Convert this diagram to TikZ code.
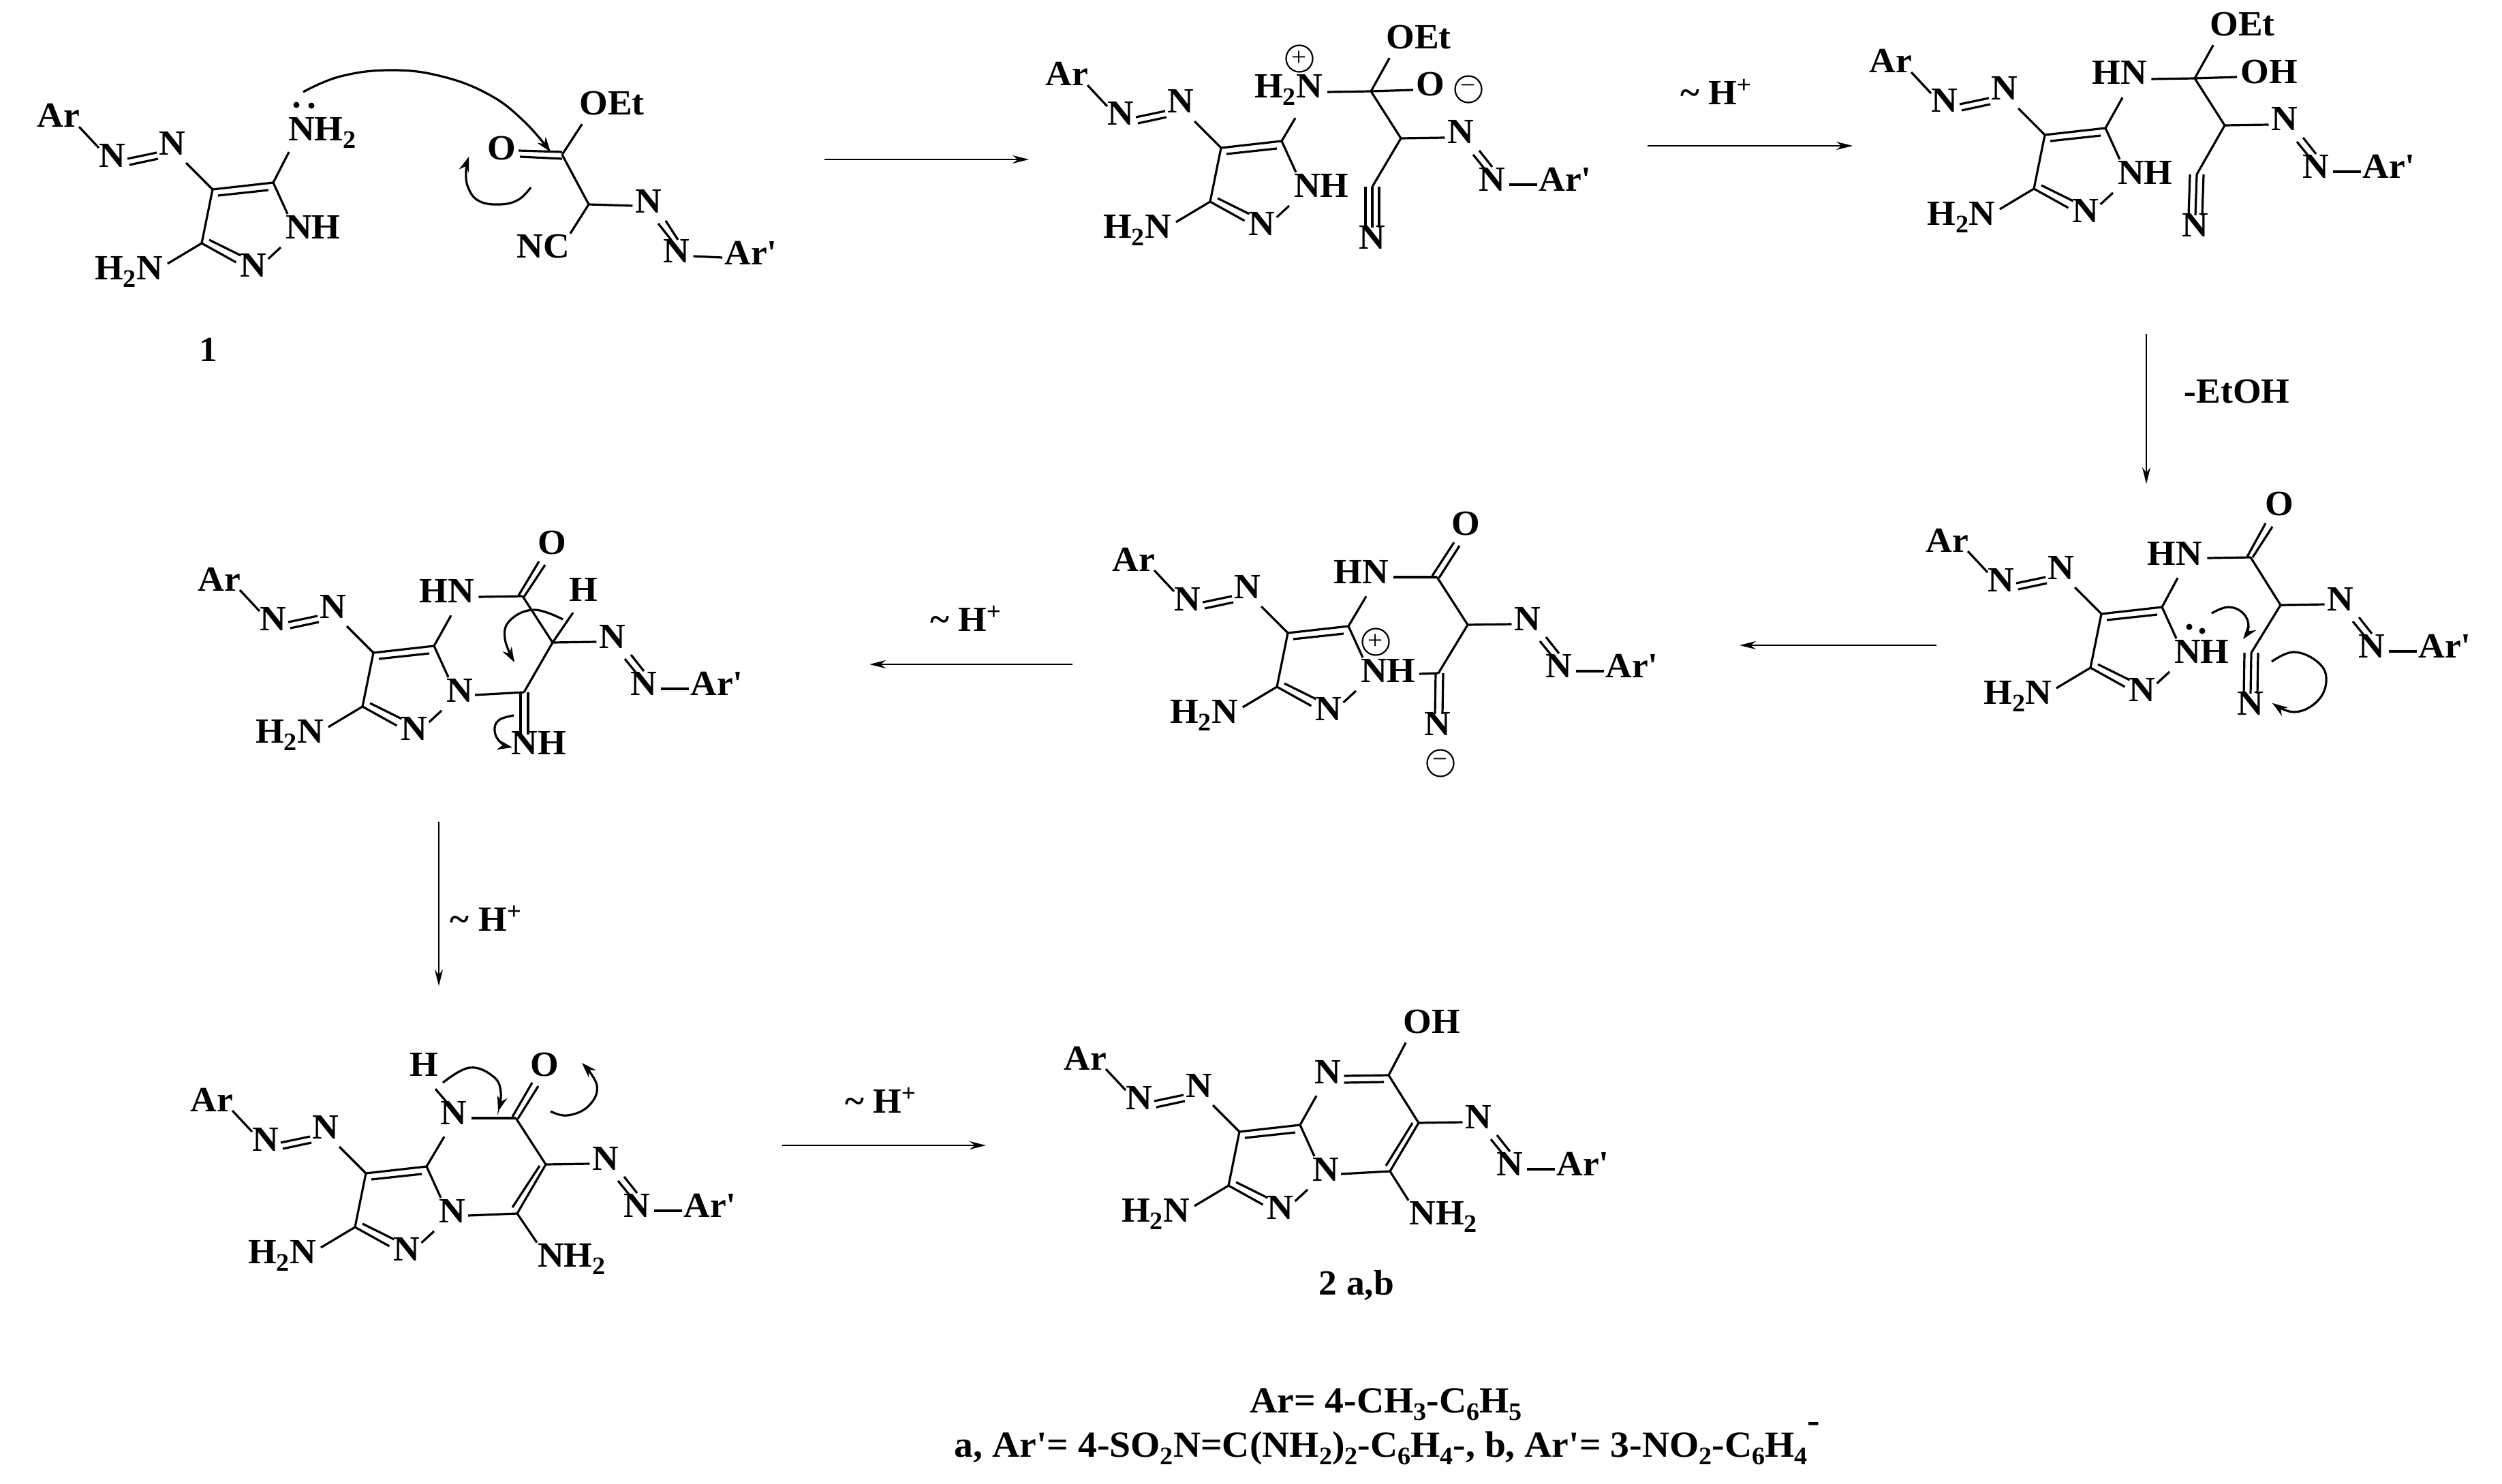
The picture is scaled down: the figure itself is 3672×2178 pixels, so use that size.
\documentclass[tikz,border=0pt]{standalone}
\usepackage{fontspec}
\setmainfont{Liberation Serif}[Ligatures=TeXOff,FakeStretch=1.03]
\usetikzlibrary{calc,arrows.meta}
\newcommand\sbs[1]{\raisebox{-11pt}[0pt][0pt]{\fontsize{37}{37}\selectfont #1}}
\newcommand\sps[1]{\raisebox{17pt}[0pt][0pt]{\fontsize{36}{36}\selectfont #1}}
\tikzset{
  atom/.style={inner sep=1pt,font=\fontsize{52}{54}\selectfont\bfseries,text height=34pt,text depth=0pt},
  caption/.style={inner sep=1pt,font=\fontsize{54}{56}\selectfont\bfseries},
  bond/.style={line width=3.2pt,line join=round},
  rxn/.style={line width=2.8pt,-{Stealth[length=24pt,width=12pt]}},
  curly/.style={line width=3.2pt,-{Stealth[length=22pt,width=15pt]}},
  chg/.style={circle,draw,line width=2.2pt,minimum size=39pt,inner sep=0pt,font=\fontsize{38}{38}\selectfont}
}
% the 4-arylazo-3-amino-pyrazole fragment, #1 #2 = position of C4, #3 = label of the ring nitrogen
\newcommand\pyr[3]{%
  \def\mx{#1}\def\my{#2}%
  \coordinate (c4) at (\mx,\my);
  \coordinate (c5) at (\mx+89,\my-10);
  \coordinate (c3) at (\mx-16,\my+79);
  \node[atom] (ar) at (\mx-226,\my-108) {Ar};
  \node[atom] (n1) at (\mx-147,\my-50) {N};
  \node[atom] (n2) at (\mx-59,\my-68) {N};
  \node[atom] (rn) at (\mx+60,\my+111) {N};
  \node[atom] (h2n) at (\mx-123,\my+115) {H\sbs{2}N};
  \node[atom,anchor=west] (nh) at (\mx+106,\my+55) {#3};
  \draw[bond] ($(ar)+(30,16)$) -- ($(n1)+(-20,-11)$);
  \draw[bond] ($(n1)+(22,5)$) -- ($(n2)+(-23,14)$);
  \draw[bond] ($(n1)+(25,14)$) -- ($(n2)+(-21,23)$);
  \draw[bond] (c4) -- ($(n2)+(20,29)$);
  \draw[bond] (c5) -- (c4) -- (c3);
  \draw[bond] ($(c4)+(8,9)$) -- ($(c5)+(-7,11)$);
  \draw[bond] (c3) -- ($(rn.west)+(-5,-4)$);
  \draw[bond] ($(c3)+(11,-5)$) -- ($(rn.west)+(2,-14)$);
  \draw[bond] (c3) -- ($(h2n.east)+(6,-6)$);
  \draw[bond] (c5) -- ($(nh.west)+(4,-19)$);
  \draw[bond] ($(rn.east)+(1,-9)$) -- ($(nh.west)+(-6,30)$);
}
% the CH-N=N-Ar' tail
\newcommand\azotail[2]{%
  \coordinate (ch) at (#1,#2);
  \node[atom] (n3) at (#1+88,#2-9) {N};
  \node[atom] (n4) at (#1+134,#2+60) {N};
  \node[atom] (arp) at (#1+241,#2+60) {Ar'};
  \draw[bond] (ch) -- ($(n3.west)+(-3,8)$);
  \draw[bond] ($(n3)+(18,33)$) -- ($(n4)+(-11,-15)$);
  \draw[bond] ($(n3)+(27,27)$) -- ($(n4)+(0,-18)$);
  \draw[bond] ($(n4.east)+(4,8)$) -- ($(arp.west)+(-1,8)$);
}
\newcommand\nitrile[2]{%
  \draw[bond] ($(#1)+(-10,0)$) -- ($(#2.north)+(-10,4)$);
  \draw[bond] (#1) -- ($(#2.north)+(0,4)$);
  \draw[bond] ($(#1)+(10,0)$) -- ($(#2.north)+(10,4)$);
}
\begin{document}
\begin{tikzpicture}[x=1pt,y=-1pt]
\useasboundingbox (0,0) rectangle (3672,2178);
\fill[white] (0,0) rectangle (3672,2178);

% ---------- compound 1 and the ester
\begin{scope}[name prefix=ma-]
  \pyr{312}{278}{NH}
  \node[atom] (nh2) at (473,190) {NH\sbs{2}};
  \draw[bond] (c5) -- ($(nh2.west)+(2,33)$);
  \fill (435,154) circle (4.5pt) (457,155) circle (4.5pt);
  \node[atom] (lab) at (306,513) {1};
  \coordinate (cx) at (825,227);
  \coordinate (chx) at (864,300);
  \node[atom] (ox) at (736,217) {O};
  \node[atom] (oet) at (898,152) {OEt};
  \node[atom] (nq) at (952,295) {N};
  \node[atom] (nr) at (993,368) {N};
  \node[atom] (arp) at (1102,371) {Ar'};
  \node[atom] (nc) at (797,361) {NC};
  \draw[bond] ($(ox.east)+(3,4)$) -- ($(cx)+(0,-4)$);
  \draw[bond] ($(ox.east)+(5,13)$) -- ($(cx)+(0,6)$);
  \draw[bond] (cx) -- ($(oet.south west)+(5,12)$);
  \draw[bond] (cx) -- (chx);
  \draw[bond] (chx) -- ($(nq.west)+(-3,7)$);
  \draw[bond] ($(nq)+(14,33)$) -- ($(nr)+(-8,-16)$);
  \draw[bond] ($(nq)+(25,29)$) -- ($(nr)+(2,-16)$);
  \draw[bond] ($(nr.east)+(4,8)$) -- ($(arp.west)+(-2,7)$);
  \draw[bond] (chx) -- (nc.north east);
  \draw[curly] plot[smooth,tension=.7] coordinates {(445,135) (500,112) (574,103) (648,112) (718,139) (769,178) (808,223)};
  \draw[curly] plot[smooth,tension=.7] coordinates {(779,275) (761,293) (734,300) (703,295) (687,275) (684,250) (688,230)};
\end{scope}

% ---------- zwitterionic adduct
\begin{scope}[name prefix=mb-]
  \pyr{1792}{217}{NH}
  \coordinate (cq) at (2012,134);
  \coordinate (cn) at (2014,274);
  \azotail{2056}{203}
  \node[atom] (h2np) at (1891,127) {H\sbs{2}N};
  \node[chg] (pl) at (1907,86) {+};
  \node[atom] (oet) at (2082,55) {OEt};
  \node[atom] (om) at (2099,124) {O};
  \node[chg] (mi) at (2155,131) {−};
  \node[atom] (nn) at (2014,348) {N};
  \draw[bond] (c5) -- ($(h2np.south)+(10,28)$);
  \draw[bond] ($(h2np.east)+(6,8)$) -- (cq);
  \draw[bond] (cq) -- ($(om.west)+(-3,8)$);
  \draw[bond] (cq) -- ($(oet.south west)+(6,12)$);
  \draw[bond] (cq) -- (ch) -- (cn);
  \nitrile{cn}{nn}
\end{scope}

% ---------- neutral adduct
\begin{scope}[name prefix=mc-]
  \pyr{3001}{198}{NH}
  \coordinate (cq) at (3221,115);
  \coordinate (cn) at (3224,256);
  \azotail{3265}{184}
  \node[atom] (hn) at (3111,107) {HN};
  \node[atom] (oet) at (3291,36) {OEt};
  \node[atom] (oh) at (3330,106) {OH};
  \node[atom] (nn) at (3222,330) {N};
  \draw[bond] (c5) -- ($(hn.south)+(4,18)$);
  \draw[bond] ($(hn.east)+(5,9)$) -- (cq);
  \draw[bond] (cq) -- ($(oh.west)+(-4,7)$);
  \draw[bond] (cq) -- ($(oet.south west)+(6,12)$);
  \draw[bond] (cq) -- (ch) -- (cn);
  \nitrile{cn}{nn}
\end{scope}

% ---------- amide with nitrile
\begin{scope}[name prefix=md-]
  \pyr{3084}{901}{NH}
  \coordinate (cq) at (3303,818);
  \coordinate (cn) at (3304,958);
  \azotail{3347}{888}
  \node[atom] (hn) at (3192,812) {HN};
  \node[atom] (ox) at (3345,739) {O};
  \node[atom] (nn) at (3303,1032) {N};
  \draw[bond] (c5) -- ($(hn.south)+(4,18)$);
  \draw[bond] ($(hn.east)+(6,7)$) -- (cq);
  \draw[bond] ($(cq)+(-5,-1)$) -- ($(ox)+(-20,29)$);
  \draw[bond] ($(cq)+(3,0)$) -- ($(ox)+(-10,34)$);
  \draw[bond] (cq) -- (ch) -- (cn);
  \nitrile{cn}{nn}
  \fill (3213,920) circle (4.5pt) (3232,926) circle (4.5pt);
  \draw[curly] plot[smooth,tension=.7] coordinates {(3246,900) (3270,891) (3292,900) (3300,920) (3292,938)};
  \draw[curly] plot[smooth,tension=.7] coordinates {(3334,971) (3367,957) (3403,973) (3414,1000) (3400,1030) (3367,1045) (3335,1032)};
\end{scope}

% ---------- cyclised zwitterion
\begin{scope}[name prefix=me-]
  \pyr{1890}{929}{NH}
  \coordinate (cq) at (2109,847);
  \coordinate (cn) at (2111,988);
  \azotail{2154}{917}
  \node[atom] (hn) at (1998,839) {HN};
  \node[atom] (ox) at (2151,768) {O};
  \node[atom] (nn) at (2110,1062) {N};
  \node[chg] (pl) at (2019,942) {+};
  \node[chg] (mi) at (2114,1120) {−};
  \draw[bond] (c5) -- ($(hn.south)+(7,18)$);
  \draw[bond] ($(hn.east)+(6,8)$) -- (cq);
  \draw[bond] ($(cq)+(-7,-2)$) -- ($(ox)+(-17,28)$);
  \draw[bond] ($(cq)+(3,1)$) -- ($(ox)+(-9,33)$);
  \draw[bond] (cq) -- (ch) -- (cn);
  \draw[bond] ($(nh.east)+(4,5)$) -- (cn);
  \draw[bond] ($(cn)+(-4,0)$) -- ($(nn.north)+(-4,4)$);
  \draw[bond] ($(cn)+(7,0)$) -- ($(nn.north)+(7,4)$);
\end{scope}

% ---------- bicyclic imine
\begin{scope}[name prefix=mf-]
  \pyr{548}{958}{N}
  \coordinate (cq) at (767,875);
  \coordinate (cn) at (769,1016);
  \azotail{811}{943}
  \node[atom] (hn) at (656,867) {HN};
  \node[atom] (ox) at (810,796) {O};
  \node[atom] (hh) at (856,865) {H};
  \node[atom] (imh) at (791,1090) {NH};
  \draw[bond] (c5) -- ($(hn.south)+(6,18)$);
  \draw[bond] ($(hn.east)+(5,9)$) -- (cq);
  \draw[bond] ($(cq)+(-6,-1)$) -- ($(ox)+(-19,28)$);
  \draw[bond] ($(cq)+(2,1)$) -- ($(ox)+(-10,33)$);
  \draw[bond] (cq) -- (ch) -- (cn);
  \draw[bond] (ch) -- ($(hh.south)+(-15,16)$);
  \draw[bond] ($(nh.east)+(2,7)$) -- (cn);
  \draw[bond] ($(cn)+(-5,0)$) -- ($(imh.north)+(-27,6)$);
  \draw[bond] ($(cn)+(6,0)$) -- ($(imh.north)+(-16,6)$);
  \draw[curly] plot[smooth,tension=.7] coordinates {(826,909) (784,895) (749,910) (741,937) (755,972)};
  \draw[curly] plot[smooth,tension=.7] coordinates {(754,1050) (732,1057) (726,1073) (735,1090) (752,1097)};
\end{scope}

% ---------- NH lactam
\begin{scope}[name prefix=mg-]
  \pyr{537}{1722}{N}
  \coordinate (cq) at (757,1641);
  \coordinate (c7) at (759,1781);
  \azotail{801}{1709}
  \node[atom] (hh) at (622,1562) {H};
  \node[atom] (nx) at (666,1633) {N};
  \node[atom] (ox) at (799,1562) {O};
  \node[atom] (nh2) at (839,1842) {NH\sbs{2}};
  \draw[bond] (c5) -- ($(nx.south)+(-14,17)$);
  \draw[bond] ($(hh.south)+(17,18)$) -- ($(nx.north)+(-11,2)$);
  \draw[bond] ($(nx.east)+(5,8)$) -- (cq);
  \draw[bond] ($(cq)+(-5,-2)$) -- ($(ox)+(-18,27)$);
  \draw[bond] ($(cq)+(3,1)$) -- ($(ox)+(-9,32)$);
  \draw[bond] (cq) -- (ch) -- (c7);
  \draw[bond] ($(ch)+(-9,2)$) -- ($(c7)+(-7,-9)$);
  \draw[bond] ($(nh.east)+(3,7)$) -- (c7);
  \draw[bond] (c7) -- (nh2.north west);
  \draw[curly] plot[smooth,tension=.7] coordinates {(650,1589) (689,1567) (724,1580) (735,1603) (731,1631)};
  \draw[curly] plot[smooth,tension=.7] coordinates {(808,1631) (833,1637) (864,1623) (876,1593) (854,1560)};
\end{scope}

% ---------- product 2
\begin{scope}[name prefix=mh-]
  \pyr{1819}{1661}{N}
  \coordinate (cq) at (2038,1578);
  \coordinate (c7) at (2040,1719);
  \azotail{2082}{1648}
  \node[atom] (nx) at (1949,1573) {N};
  \node[atom] (oh) at (2101,1499) {OH};
  \node[atom] (nh2) at (2118,1780) {NH\sbs{2}};
  \node[atom] (lab) at (1991,1883) {2 a,b};
  \draw[bond] (c5) -- ($(nx.south)+(-17,17)$);
  \draw[bond] ($(nx.east)+(3,6)$) -- (cq);
  \draw[bond] ($(nx.east)+(3,16)$) -- ($(cq)+(-7,10)$);
  \draw[bond] (cq) -- ($(oh.south west)+(5,13)$);
  \draw[bond] (cq) -- (ch) -- (c7);
  \draw[bond] ($(ch)+(-9,0)$) -- ($(c7)+(-6,-8)$);
  \draw[bond] ($(nh.east)+(2,7)$) -- (c7);
  \draw[bond] (c7) -- (nh2.north west);
\end{scope}

% ---------- reaction arrows
\coordinate (a1s) at (1210,234); \coordinate (a1e) at (1510,234);
\coordinate (a2s) at (2418,214); \coordinate (a2e) at (2719,214);
\coordinate (a3s) at (3150,490); \coordinate (a3e) at (3150,710);
\coordinate (a4s) at (2842,947); \coordinate (a4e) at (2553,947);
\coordinate (a5s) at (1574,975); \coordinate (a5e) at (1276,975);
\coordinate (a6s) at (644,1206); \coordinate (a6e) at (644,1447);
\coordinate (a7s) at (1148,1681); \coordinate (a7e) at (1447,1681);
\draw[rxn] (a1s) -- (a1e);
\draw[rxn] (a2s) -- (a2e);
\draw[rxn] (a3s) -- (a3e);
\draw[rxn] (a4s) -- (a4e);
\draw[rxn] (a5s) -- (a5e);
\draw[rxn] (a6s) -- (a6e);
\draw[rxn] (a7s) -- (a7e);
\node[atom] (t2) at (2518,137) {\textasciitilde{} H\sps{+}};
\node[atom] (t3) at (3283,574) {-EtOH};
\node[atom] (t5) at (1417,909) {\textasciitilde{} H\sps{+}};
\node[atom] (t6) at (713,1349) {\textasciitilde{} H\sps{+}};
\node[atom] (t7) at (1292,1616) {\textasciitilde{} H\sps{+}};

% ---------- legend
\node[caption,anchor=base] (l1) at (2034,2073) {Ar= 4-CH\sbs{3}-C\sbs{6}H\sbs{5}};
\node[caption,anchor=base] (l2) at (2036,2138) {a, Ar'= 4-SO\sbs{2}N=C(NH\sbs{2})\sbs{2}-C\sbs{6}H\sbs{4}-, b, Ar'= 3-NO\sbs{2}-C\sbs{6}H\sbs{4}\raisebox{36pt}{-}};
\end{tikzpicture}
\end{document}
